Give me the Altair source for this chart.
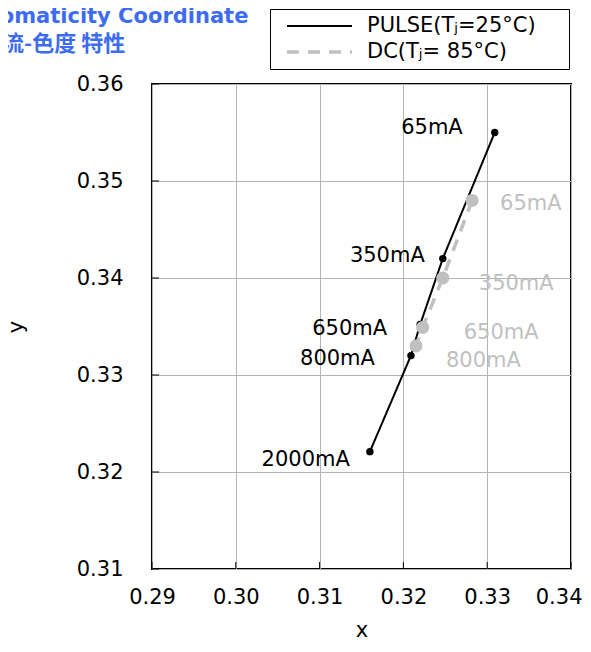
import altair as alt
import pandas as pd

# ---- data ----
series_names = ["PULSE(Tⱼ=25°C)", "DC(Tⱼ= 85°C)"]
pulse_currents = ["65mA", "350mA", "650mA", "800mA", "2000mA"]
pulse_x = [0.3309, 0.3247, 0.3220, 0.3209, 0.3160]
pulse_y = [0.3550, 0.3420, 0.3352, 0.3320, 0.3221]
dc_currents = ["65mA", "350mA", "650mA", "800mA"]
dc_x = [0.3282, 0.3247, 0.3223, 0.3215]
dc_y = [0.3480, 0.3400, 0.3349, 0.3330]
x_ticks = [0.29, 0.30, 0.31, 0.32, 0.33, 0.34]
y_ticks = [0.31, 0.32, 0.33, 0.34, 0.35, 0.36]
title_lines = ["Chromaticity Coordinate", "电流-色度 特性"]

FONT = "DejaVu Sans"
GREY = "#c0c0c0"
BLUE = "#3d6cf2"

rows = []
for i, (c, x, y) in enumerate(zip(pulse_currents, pulse_x, pulse_y)):
    rows.append({"series": series_names[0], "current": c, "x": x, "y": y, "idx": i})
for i, (c, x, y) in enumerate(zip(dc_currents, dc_x, dc_y)):
    rows.append({"series": series_names[1], "current": c, "x": x, "y": y, "idx": i})
df = pd.DataFrame(rows)
df_p = df[df.series == series_names[0]]
df_d = df[df.series == series_names[1]]

xs = alt.Scale(domain=[0.29, 0.34], nice=False, zero=False)
ys = alt.Scale(domain=[0.31, 0.36], nice=False, zero=False)

last_x = "datum.value >= 0.3399"
X = alt.X("x:Q", scale=xs, axis=alt.Axis(
    values=x_ticks, format=".2f", title="x",
    labelPadding=17, titlePadding=12, labelFlush=False, labelOverlap=False,
    labelAlign=alt.condition(last_x, alt.value("right"), alt.value("center")),
    labelOffset=alt.condition(last_x, alt.value(11), alt.value(0)),
))
Y = alt.Y("y:Q", scale=ys, axis=alt.Axis(values=y_ticks, format=".2f", title="y",
                                          labelPadding=29, titlePadding=50,
                                          labelFlush=False, labelOverlap=False))

base = alt.Chart(df)

lines = base.mark_line().encode(
    x=X, y=Y,
    color=alt.Color("series:N",
                    scale=alt.Scale(domain=series_names, range=["black", GREY]),
                    legend=alt.Legend(title="\u00a0", titleOrient="right", titlePadding=29,
                                      titleFontSize=21,
                                      orient="none", legendX=118, legendY=-75,
                                      symbolType="stroke", symbolSize=4225,
                                      symbolStrokeWidth=3, labelFontSize=21,
                                      labelFont=FONT, labelColor="black", labelLimit=400,
                                      clipHeight=26, rowPadding=0,
                                      padding=4, symbolOffset=11, labelOffset=13,
                                      strokeColor="black", fillColor="white",
                                      cornerRadius=0)),
    strokeDash=alt.StrokeDash("series:N",
                              scale=alt.Scale(domain=series_names, range=[[1, 0], [12, 9]]),
                              legend=None),
    strokeWidth=alt.StrokeWidth("series:N",
                                scale=alt.Scale(domain=series_names, range=[2, 3.5]),
                                legend=None),
    order=alt.Order("idx:Q"),
)

pts_p = alt.Chart(df_p).mark_circle(color="black", opacity=1, size=55).encode(x="x:Q", y="y:Q")
pts_d = alt.Chart(df_d).mark_circle(color=GREY, opacity=1, size=170).encode(x="x:Q", y="y:Q")

# label offsets (pixels) per current
p_off = {"65mA": (-32, -5), "350mA": (-18, -3), "650mA": (-33, 4),
         "800mA": (-36, 3), "2000mA": (-20, 8)}
d_off = {"65mA": (28, 4), "350mA": (36, 6), "650mA": (41, 6), "800mA": (30, 15)}

labels = []
for c, (dx, dy) in p_off.items():
    labels.append(alt.Chart(df_p[df_p.current == c]).mark_text(
        align="right", baseline="middle", dx=dx, dy=dy, font=FONT, fontSize=21,
        color="black").encode(x="x:Q", y="y:Q", text="current:N"))
for c, (dx, dy) in d_off.items():
    labels.append(alt.Chart(df_d[df_d.current == c]).mark_text(
        align="left", baseline="middle", dx=dx, dy=dy, font=FONT, fontSize=21,
        color=GREY).encode(x="x:Q", y="y:Q", text="current:N"))

# inward ticks
xt = alt.Chart(pd.DataFrame({"x": x_ticks})).mark_rule(color="black", strokeWidth=1).encode(
    x="x:Q", y=alt.value(485), y2=alt.value(478))
yt = alt.Chart(pd.DataFrame({"y": y_ticks})).mark_rule(color="black", strokeWidth=1).encode(
    y="y:Q", x=alt.value(0), x2=alt.value(7))

t1 = alt.Chart(pd.DataFrame({"t": [title_lines[0]]})).mark_text(
    align="left", baseline="alphabetic", font=FONT, fontSize=21, fontWeight="bold",
    color=BLUE).encode(x=alt.value(-193), y=alt.value(-61), text="t:N")
t2 = alt.Chart(pd.DataFrame({"t": [title_lines[1]]})).mark_text(
    align="left", baseline="alphabetic", font="Noto Sans CJK SC", fontSize=22, fontWeight="bold",
    color=BLUE).encode(x=alt.value(-172), y=alt.value(-33), text="t:N")

chart = alt.layer(lines, pts_p, pts_d, *labels, xt, yt, t1, t2).properties(
    width=419, height=485,
    autosize=alt.AutoSizeParams(type="none"),
    padding={"left": 144, "top": 76, "right": 12, "bottom": 71},
).configure_view(stroke="black", strokeWidth=2).configure_axis(
    labelFont=FONT, labelFontSize=21, labelColor="black",
    titleFont=FONT, titleFontSize=21, titleFontWeight="normal", titleColor="black",
    grid=True, gridColor="#b4b4b4", gridWidth=1, domain=False, ticks=False,
)

chart.save("out.html", embed_options={"renderer": "svg", "actions": False})
